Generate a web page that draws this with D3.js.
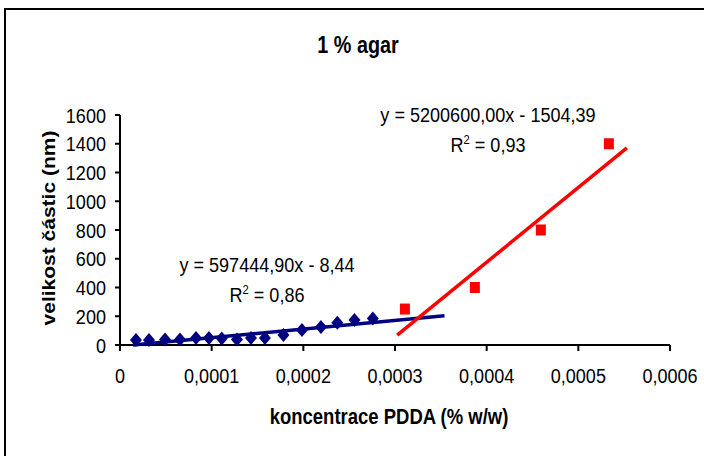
<!DOCTYPE html>
<html>
<head>
<meta charset="utf-8">
<script src="https://cdn.jsdelivr.net/npm/d3@7"></script>
<style>
  body { margin: 0; background: #fff; }
  svg text { font-family: "Liberation Sans", Arial, sans-serif; fill: #000; }
</style>
</head>
<body>
<div id="chart"></div>
<script>
// nizka koncentrace (modra) a vysoka koncentrace (cervena)
var lowX = [0.0000174, 0.0000316, 0.0000491, 0.0000654, 0.0000829, 0.0000970, 0.0001110, 0.0001276, 0.0001429, 0.0001581, 0.0001783, 0.0001985, 0.0002192, 0.0002371, 0.0002558, 0.0002758];
var lowY = [35, 35, 38, 38, 49, 49, 45, 38, 49, 49, 70, 104, 125, 155, 174, 185];
var highX = [0.0003108, 0.0003871, 0.0004591, 0.0005333];
var highY = [250, 400, 800, 1400];

// trendy: y = a*x + b, rozsah x
var lowTrend = { a: 597444.90, b: -8.44, x0: 0.0000142, x1: 0.000354 };
var highTrend = { a: 5200600.00, b: -1504.39, x0: 0.0003024, x1: 0.000553 };
var lowLabel = ["y = 597444,90x - 8,44", "0,86"];
var highLabel = ["y = 5200600,00x - 1504,39", "0,93"];

var xTicks = [0, 0.0001, 0.0002, 0.0003, 0.0004, 0.0005, 0.0006];
var yTicks = [0, 200, 400, 600, 800, 1000, 1200, 1400, 1600];

var width = 704, height = 456, sx = 0.86;

var svg = d3.select("#chart").append("svg")
    .attr("width", width).attr("height", height);

svg.append("rect")
    .attr("x", 5).attr("y", 9).attr("width", 720).attr("height", 470)
    .attr("fill", "none").attr("stroke", "#000").attr("stroke-width", 2);

var x = d3.scaleLinear().domain([0, 0.0006]).range([120, 670]);
var y = d3.scaleLinear().domain([0, 1600]).range([345, 115]);

// popisek s horizontalnim zuzenim
function label(g, tx, ty, txt, size, anchor, bold, rot) {
    var t = g.append("text")
        .attr("transform", "translate(" + tx + "," + ty + ") scale(" + sx + ",1)" + (rot ? " rotate(" + rot + ")" : ""))
        .attr("text-anchor", anchor)
        .attr("font-size", size + "px")
        .attr("font-weight", bold ? "bold" : "normal")
        .text(txt);
    return t;
}

var fmt = function (d) { return d === 0 ? "0" : d3.format(".4f")(d).replace(".", ","); };

// osa x
var gx = svg.append("g").attr("transform", "translate(0," + y(0) + ")");
gx.append("line").attr("x1", x(0)).attr("x2", x(0.0006)).attr("stroke", "#000").attr("stroke-width", 2);
gx.selectAll(".tx").data(xTicks).enter().append("line")
    .attr("x1", d => x(d)).attr("x2", d => x(d)).attr("y1", 0).attr("y2", 6)
    .attr("stroke", "#000").attr("stroke-width", 2);
xTicks.forEach(d => label(svg, x(d), 383, fmt(d), 21, "middle"));

// osa y
var gy = svg.append("g").attr("transform", "translate(" + x(0) + ",0)");
gy.append("line").attr("y1", y(0)).attr("y2", y(1600)).attr("stroke", "#000").attr("stroke-width", 2);
gy.selectAll(".ty").data(yTicks).enter().append("line")
    .attr("y1", d => y(d)).attr("y2", d => y(d)).attr("x1", -5).attr("x2", 0)
    .attr("stroke", "#000").attr("stroke-width", 2);
yTicks.forEach(d => label(svg, 106, y(d) + 7.5, d, 21, "end"));

// nadpisy
label(svg, 358, 53, "1 % agar", 23, "middle", true);
label(svg, 389, 424, "koncentrace PDDA (% w/w)", 21.5, "middle", true);
label(svg, 55, 228, "velikost částic (nm)", 21, "middle", true, -90);

// trendy
function trend(t, col) {
    svg.append("line")
        .attr("x1", x(t.x0)).attr("y1", y(t.a * t.x0 + t.b))
        .attr("x2", x(t.x1)).attr("y2", y(t.a * t.x1 + t.b))
        .attr("stroke", col).attr("stroke-width", 3.5);
}

// body
svg.selectAll(".low").data(d3.zip(lowX, lowY)).enter().append("path")
    .attr("transform", d => "translate(" + x(d[0]) + "," + y(d[1]) + ")")
    .attr("d", "M0,-7L6,0L0,7L-6,0Z")
    .attr("fill", "#000080");
trend(lowTrend, "#000080");

svg.selectAll(".high").data(d3.zip(highX, highY)).enter().append("rect")
    .attr("x", d => x(d[0]) - 5).attr("y", d => y(d[1]) - 5.5)
    .attr("width", 10).attr("height", 11)
    .attr("fill", "#ff0000");
trend(highTrend, "#ff0000");

// rovnice
function eq(cx, by, lines) {
    label(svg, cx, by, lines[0], 21, "middle");
    var t = label(svg, cx, by + 30, "", 21, "middle");
    t.append("tspan").text("R");
    t.append("tspan").attr("font-size", "13px").attr("dy", -8).text("2");
    t.append("tspan").attr("dy", 8).text(" = " + lines[1]);
}
eq(488, 122, highLabel);
eq(267, 272, lowLabel);
</script>
</body>
</html>
